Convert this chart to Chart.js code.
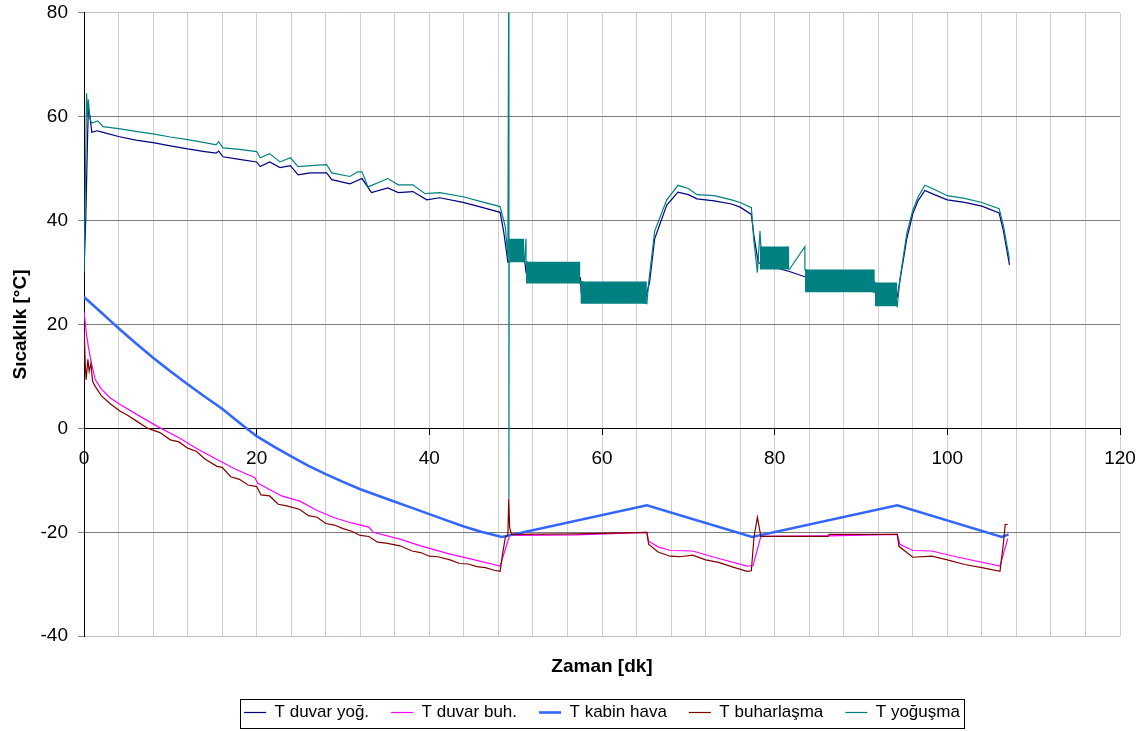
<!DOCTYPE html>
<html lang="tr">
<head>
<meta charset="UTF-8">
<title>Sıcaklık - Zaman</title>
<script src="https://cdn.jsdelivr.net/npm/chart.js"></script>
<style>
  html, body { margin: 0; padding: 0; background: #ffffff; }
  #kutu { width: 1145px; height: 731px; }
</style>
</head>
<body>
<div id="kutu"><canvas id="grafik" width="1145" height="731"></canvas></div>
<script>
// [zaman dk, sıcaklık °C] okunan değerler
const tDuvarYog = [
  [0, 30], [0.2, 40], [0.4, 55], [0.5, 61.5], [0.7, 60], [0.9, 57], [1.5, 57.3], [2.2, 57],
  [4, 56.2], [6, 55.5], [8, 55], [10, 54.4], [12, 53.8], [14, 53.3], [15.3, 53.0], [15.6, 53.4],
  [16.1, 52.3], [18, 51.8], [20, 51.3], [20.4, 50.4], [21.5, 51.3], [22.7, 50.2], [23.9, 50.6],
  [24.8, 48.8], [26.2, 49.2], [28.1, 49.2], [28.7, 47.9], [30.8, 47.1], [32.2, 48.1], [33.3, 45.4],
  [35.2, 46.3], [36.4, 45.4], [38.1, 45.6], [39.7, 44.0], [41.2, 44.4], [43.9, 43.5], [46, 42.6],
  [48.2, 41.6], [48.6, 38], [49.1, 32], [51, 33], [51.2, 30], [57.5, 29], [57.6, 26], [65.1, 25.5],
  [65.5, 28], [66.1, 36.5], [67.5, 43], [68.8, 45.5], [70, 45], [71, 44.2], [73, 43.8], [75, 43.2],
  [76, 42.6], [77.3, 41.2], [77.6, 37], [78.1, 31.9], [81.7, 30.2], [83.5, 29.2], [91.6, 28],
  [91.7, 25.5], [94.2, 25.3], [94.5, 28.4], [95.3, 36.5], [96, 41.3], [96.6, 43.8], [97.4, 45.8],
  [98.5, 45], [100, 44], [102, 43.5], [104, 42.8], [106, 41.5], [106.5, 38], [107.2, 31.5]
];
const tDuvarBuh = [
  [0, 22.5], [0.3, 18], [0.5, 15.8], [0.8, 13], [1.3, 9.4], [2, 7.6], [3, 5.9], [4.2, 4.6], [6, 2.8],
  [8.6, 0.3], [11.1, -1.9], [13, -3.8], [15.4, -6.0], [17.5, -7.8], [19.8, -9.5], [20.1, -10.5],
  [22.9, -13.0], [25, -14.0], [27, -15.8], [29, -17.2], [31, -18.2], [33, -19.0], [33.5, -20.0],
  [36.6, -21.3], [39, -22.6], [42.4, -24.2], [45, -25.2], [48.2, -26.5], [49.3, -20.6], [57, -20.5],
  [65.2, -20.0], [65.4, -21.7], [66.5, -22.8], [67.9, -23.5], [70.5, -23.6], [73, -24.8], [76.8, -26.5],
  [77.5, -26.4], [78.4, -20.8], [86.2, -20.7], [94.2, -20.4], [94.5, -22.3], [96, -23.5], [98.2, -23.6],
  [101, -24.7], [106.1, -26.5], [107, -21.2]
];
const tKabinHava = [
  [0, 25.3], [1, 23.8], [2, 22.3], [3, 20.8], [4, 19.3], [6, 16.4], [8, 13.6], [10, 11.0], [12, 8.5],
  [14, 6.1], [16, 3.8], [18, 1.1], [20, -1.5], [22, -3.5], [24, -5.4], [26, -7.2], [28, -8.8],
  [30, -10.3], [32, -11.7], [34, -12.9], [36, -14.1], [38, -15.3], [40, -16.5], [42, -17.7],
  [44, -18.9], [46, -19.9], [48.4, -20.9], [65.2, -14.8], [77.4, -20.9], [94.2, -14.8],
  [106.3, -20.9], [107.1, -20.4]
];
const tBuharlasma = [
  [0, 20], [0.15, 12], [0.25, 9.4], [0.45, 13.3], [0.6, 11], [0.8, 12.5], [1.0, 9], [1.3, 8.1],
  [2, 6.3], [3, 4.8], [4.2, 3.3], [5, 2.6], [6, 1.5], [7.4, 0], [8.8, -0.8], [10, -2.2], [11, -2.6],
  [12, -3.8], [13, -4.4], [14, -5.9], [15.4, -7.3], [16, -7.5], [17, -9.3], [18, -9.8], [19, -10.9],
  [20, -11.2], [20.5, -12.8], [21.5, -13.0], [22.5, -14.6], [23.5, -14.9], [25, -15.6], [26, -16.8],
  [27, -17.1], [28, -18.3], [29, -18.6], [30, -19.3], [31, -19.8], [32, -20.6], [33, -20.8],
  [34, -21.9], [35, -22.1], [36.6, -22.6], [38, -23.6], [39, -23.9], [40, -24.6], [41, -24.7],
  [42.4, -25.3], [43.5, -26], [44.5, -26.1], [45.5, -26.6], [46.5, -26.8], [47.5, -27.3], [48.2, -27.5],
  [48.5, -24], [48.8, -21], [49.1, -20.5], [49.2, -13.5], [49.3, -19], [49.5, -20.4], [57, -20.3],
  [65.2, -20.0], [65.4, -22.3], [66.5, -23.8], [67.9, -24.6], [69, -24.7], [70.5, -24.4], [72, -25.3],
  [73.5, -25.8], [75, -26.6], [76.8, -27.5], [77.3, -27.4], [77.6, -21], [78.0, -17.1], [78.4, -20.8],
  [86.2, -20.8], [86.3, -20.4], [94.2, -20.4], [94.4, -22.7], [96, -24.8], [98.2, -24.6], [100, -25.3],
  [102, -26.2], [104, -26.8], [106.1, -27.5], [106.5, -22], [106.7, -18.5], [107, -18.5]
];
const tYogusma = [
  [0, 30], [0.15, 46], [0.3, 64.5], [0.4, 60], [0.5, 63.3], [0.7, 59.5], [0.9, 58.8], [1.6, 59.2],
  [2.2, 58.1], [4, 57.7], [6, 57.2], [8, 56.7], [10, 56.1], [12, 55.6], [14, 55.0], [15.3, 54.6],
  [15.6, 55.2], [16.1, 54.0], [18, 53.7], [20, 53.3], [20.4, 52.1], [21.5, 52.9], [22.7, 51.3],
  [23.9, 52.1], [24.8, 50.4], [26.2, 50.6], [28.1, 50.8], [28.7, 49.2], [30.8, 48.5], [31.7, 49.4],
  [32.2, 49.4], [32.9, 46.5], [35.2, 48.1], [36.4, 46.9], [38.1, 46.9], [39.5, 45.2], [41.2, 45.4],
  [43.9, 44.6], [45.9, 43.7], [48.2, 42.7], [48.8, 38.8], [49.1, 33], [49.2, 90], [49.22, -13.5],
  [49.25, 36.5], [51.0, 32.0], [51.2, 36.5], [51.2, 32.1], [57.5, 27.9], [57.5, 28.3], [65.2, 24.0],
  [65.4, 28], [66.1, 38], [67.5, 44], [68.8, 46.8], [70, 46.2], [71, 45], [73, 44.8], [75, 44],
  [76, 43.5], [77.3, 42.5], [77.6, 36], [78.0, 30], [78.3, 38], [78.4, 35], [81.7, 30.6], [83.5, 35],
  [83.5, 30.6], [91.6, 26.2], [91.6, 28.1], [94.2, 23.5], [94.5, 28.6], [95.3, 37.5], [96, 42],
  [96.6, 44.5], [97.4, 46.8], [98.5, 46], [100, 44.8], [102, 44.3], [104, 43.5], [106, 42.3],
  [106.5, 39], [107.2, 32.5]
];
// yoğuşma sıcaklığının hızlı salındığı bölgeler: [başlangıç, bitiş, üst, alt]
const salinimBolgeleri = [
  [49.25, 51.0, 36.5, 32.0],
  [51.2, 57.5, 32.1, 27.9],
  [57.5, 65.2, 28.3, 24.0],
  [78.3, 81.7, 35.0, 30.6],
  [83.5, 91.6, 30.6, 26.2],
  [91.6, 94.2, 28.1, 23.5]
];

const xy = arr => arr.map(p => ({ x: p[0], y: p[1] }));

function seri(label, data, color, width, order) {
  return {
    label: label,
    data: xy(data),
    borderColor: color,
    backgroundColor: color,
    borderWidth: width,
    pointRadius: 0,
    pointBorderWidth: width,
    fill: false,
    tension: 0,
    order: order
  };
}

const datasets = [
  seri('T duvar yoğ.', tDuvarYog, '#000080', 1.2, 6),
  seri('T duvar buh.', tDuvarBuh, '#ff00ff', 1.2, 5),
  seri('T kabin hava', tKabinHava, '#3366ff', 2.6, 4),
  seri('T buharlaşma', tBuharlasma, '#800000', 1.2, 3),
  seri('T yoğuşma', tYogusma, '#008080', 1.2, 2)
];
// her salınım bölgesi için üst/alt çizgi arası doldurulur
salinimBolgeleri.forEach(b => {
  datasets.push({
    label: 'salinim',
    data: [{ x: b[0], y: b[2] }, { x: b[1], y: b[2] }],
    borderWidth: 0, pointRadius: 0, backgroundColor: '#008080', fill: '+1', order: 1
  });
  datasets.push({
    label: 'salinim',
    data: [{ x: b[0], y: b[3] }, { x: b[1], y: b[3] }],
    borderWidth: 0, pointRadius: 0, fill: false, order: 1
  });
});

// legend kutusunun çerçevesi
const legendCerceve = {
  id: 'legendCerceve',
  afterDraw(chart) {
    const boxes = chart.legend.legendHitBoxes;
    if (!boxes || !boxes.length) return;
    const left = Math.min(...boxes.map(b => b.left)) - 4;
    const right = Math.max(...boxes.map(b => b.left + b.width)) + 4;
    const top = Math.min(...boxes.map(b => b.top)) - 5;
    const bottom = Math.max(...boxes.map(b => b.top + b.height)) + 7;
    const ctx = chart.ctx;
    ctx.save();
    ctx.strokeStyle = '#000';
    ctx.lineWidth = 1;
    ctx.strokeRect(Math.round(left) + 0.5, Math.round(top) + 0.5, Math.round(right - left), Math.round(bottom - top));
    ctx.restore();
  }
};

Chart.defaults.font.family = "'Liberation Sans', Arial, sans-serif";
Chart.defaults.color = '#000';

const ctx = document.getElementById('grafik').getContext('2d');
new Chart(ctx, {
  type: 'line',
  data: { datasets: datasets },
  options: {
    responsive: false,
    animation: false,
    layout: { padding: { left: 0, right: 25, top: 0, bottom: 0 } },
    plugins: {
      tooltip: { enabled: false },
      title: {
        display: true,
        text: 'Zaman [dk]',
        position: 'bottom',
        fullSize: false,
        weight: 500,
        color: '#000',
        font: { size: 19, weight: 'bold' },
        padding: { top: 19, bottom: 4 }
      },
      legend: {
        position: 'bottom',
        fullSize: false,
        labels: {
          usePointStyle: true,
          pointStyle: 'line',
          pointStyleWidth: 22,
          boxHeight: 16,
          color: '#000',
          font: { size: 17 },
          padding: 22,
          filter: item => item.datasetIndex < 5,
          sort: (a, b) => a.datasetIndex - b.datasetIndex
        }
      }
    },
    scales: {
      x: {
        type: 'linear',
        min: 0,
        max: 120,
        position: { y: 0 },
        border: { color: '#000', width: 1 },
        grid: {
          color: c => c.tick.value === 0 ? '#000' : '#cfcfcf',
          tickLength: 6,
          tickColor: c => c.tick.value % 20 === 0 ? '#000' : 'rgba(0,0,0,0)'
        },
        ticks: {
          stepSize: 4,
          autoSkip: false,
          maxRotation: 0,
          padding: 2,
          color: '#000',
          font: { size: 19, lineHeight: 2.3 },
          callback: v => v % 20 === 0 ? v : ''
        }
      },
      y: {
        min: -40,
        max: 80,
        border: { color: '#000', width: 1 },
        grid: {
          color: c => {
            const v = c.tick.value;
            if (v === 0) return '#000';
            if (v === 80 || v === -40) return '#c0c0c0';
            return '#7a7a7a';
          },
          tickLength: 6,
          tickColor: '#808080'
        },
        ticks: { stepSize: 20, padding: 10, color: '#000', font: { size: 19, lineHeight: 0.3 } },
        title: {
          display: true,
          text: 'Sıcaklık [°C]',
          color: '#000',
          font: { size: 19, weight: 'bold' },
          padding: { top: 9, bottom: 0 }
        },
        afterFit: s => { s.width = 84; }
      }
    }
  },
  plugins: [legendCerceve]
});
</script>
</body>
</html>
